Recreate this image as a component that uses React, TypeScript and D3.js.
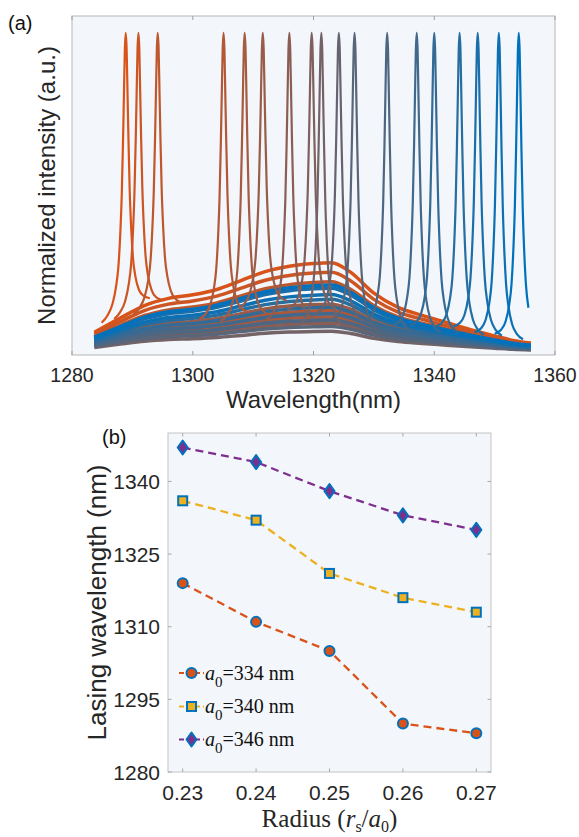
import React, { useEffect, useRef } from "react";
import * as d3 from "d3";

// (a) lasing spectra, one per peak
const peakWavelengths = [1288.9, 1291.0, 1294.2, 1305.1, 1308.6, 1311.6, 1316.0, 1319.7, 1321.3, 1324.2, 1326.8, 1332.2, 1337.1, 1340.0, 1344.2, 1347.2, 1350.7, 1354.0];
const backgroundLevels = [0.28, 0.25, 0.22, 0.13, 0.11, 0.15, 0.09, 0.12, 0.065, 0.1, 0.08, 0.1, 0.12, 0.14, 0.165, 0.2, 0.18, 0.21];
// shape of the broad spontaneous emission under the peaks
const backgroundWavelengths = [1283.7, 1288, 1292, 1296, 1300, 1304, 1308, 1312, 1316, 1320, 1323, 1326, 1330, 1334, 1338, 1342, 1346, 1350, 1353, 1356];
const backgroundShape = [0.22, 0.38, 0.52, 0.6, 0.64, 0.7, 0.8, 0.9, 0.96, 0.99, 1.0, 0.9, 0.66, 0.5, 0.41, 0.33, 0.25, 0.18, 0.13, 0.1];
// line shape of a lasing peak (offset in nm, relative height)
const lineOffsets = [-4, -3, -2.2, -1.6, -1.2, -0.9, -0.65, -0.45, -0.3, -0.15, 0, 0.15, 0.3, 0.45, 0.65, 0.9, 1.2, 1.6, 2.2, 3, 4];
const lineShape = [0.02, 0.035, 0.065, 0.12, 0.19, 0.3, 0.44, 0.62, 0.78, 0.94, 1, 0.94, 0.78, 0.62, 0.44, 0.3, 0.19, 0.12, 0.065, 0.035, 0.02];
const wavelengthTicks = [1280, 1300, 1320, 1340, 1360];

// (b) lasing wavelength vs radius
const radii = [0.23, 0.24, 0.25, 0.26, 0.27];
const lasing334 = [1319, 1311, 1305, 1290, 1288];
const lasing340 = [1336, 1332, 1321, 1316, 1313];
const lasing346 = [1347, 1344, 1338, 1333, 1330];
const lasingTicks = [1280, 1295, 1310, 1325, 1340];
const latticeLabels = ["334", "340", "346"];

const SANS = "'Liberation Sans', Arial, sans-serif";
const SERIF = "'Liberation Serif', 'Times New Roman', serif";

export default function App() {
  const ref = useRef<SVGSVGElement>(null);

  useEffect(() => {
    document.body.style.margin = "0";
    const svg = d3.select(ref.current);
    svg.selectAll("*").remove();

    // ---------- panel (a) ----------
    const a = { left: 72, right: 555, top: 16, bottom: 355 };
    const x = d3.scaleLinear().domain([1280, 1360]).range([a.left, a.right]);
    const y = d3.scaleLinear().domain([0, 1.05]).range([352, 17]);
    const color = d3.interpolateRgb("#d95319", "#0072bd");
    const bgAt = d3.scaleLinear().domain(backgroundWavelengths).range(backgroundShape).clamp(true);

    svg.append("rect")
      .attr("x", a.left).attr("y", a.top)
      .attr("width", a.right - a.left).attr("height", a.bottom - a.top)
      .attr("fill", "#f3f6fa");

    svg.append("clipPath").attr("id", "clipA")
      .append("rect")
      .attr("x", a.left).attr("y", a.top)
      .attr("width", a.right - a.left).attr("height", a.bottom - a.top);

    const line = d3.line<[number, number]>()
      .x(d => x(d[0]))
      .y(d => y(d[1]))
      .curve(d3.curveMonotoneX);

    const gA = svg.append("g").attr("clip-path", "url(#clipA)");

    // broad backgrounds first
    peakWavelengths.forEach((p, i) => {
      const level = backgroundLevels[i];
      const pts: [number, number][] = backgroundWavelengths.map((w, k) => [w, level * backgroundShape[k]]);
      gA.append("path")
        .attr("d", line(pts))
        .attr("fill", "none")
        .attr("stroke", color(i / (peakWavelengths.length - 1)))
        .attr("stroke-width", 3.5);
    });

    // lasing peaks on top
    peakWavelengths.forEach((p, i) => {
      const level = backgroundLevels[i];
      const base = level * bgAt(p);
      const pts: [number, number][] = lineOffsets
        .map((o, k) => [p + o, level * bgAt(p + o) + lineShape[k] * (1 - base)] as [number, number])
        .filter(d => d[0] <= 1356 && d[0] >= 1283.7);
      gA.append("path")
        .attr("d", line(pts))
        .attr("fill", "none")
        .attr("stroke", color(i / (peakWavelengths.length - 1)))
        .attr("stroke-width", 2.2)
        .attr("stroke-linejoin", "round");
    });

    svg.append("rect")
      .attr("x", a.left).attr("y", a.top)
      .attr("width", a.right - a.left).attr("height", a.bottom - a.top)
      .attr("fill", "none").attr("stroke", "#b5b5b5").attr("stroke-width", 1);

    wavelengthTicks.forEach(t => {
      svg.append("line")
        .attr("x1", x(t)).attr("x2", x(t))
        .attr("y1", a.bottom).attr("y2", a.bottom - 4)
        .attr("stroke", "#a0a0a0");
      svg.append("line")
        .attr("x1", x(t)).attr("x2", x(t))
        .attr("y1", a.top).attr("y2", a.top + 4)
        .attr("stroke", "#a0a0a0");
      svg.append("text")
        .attr("x", x(t)).attr("y", 382)
        .attr("text-anchor", "middle")
        .attr("font-family", SANS).attr("font-size", 19.5)
        .attr("fill", "#262626")
        .text(t);
    });

    svg.append("text")
      .attr("x", (a.left + a.right) / 2).attr("y", 408)
      .attr("text-anchor", "middle")
      .attr("font-family", SANS).attr("font-size", 24)
      .attr("fill", "#262626")
      .text("Wavelength(nm)");

    svg.append("text")
      .attr("transform", `translate(55,${(a.top + a.bottom) / 2}) rotate(-90)`)
      .attr("text-anchor", "middle")
      .attr("font-family", SANS).attr("font-size", 24)
      .attr("fill", "#262626")
      .text("Normalized intensity (a.u.)");

    svg.append("text")
      .attr("x", 8).attr("y", 30)
      .attr("font-family", SANS).attr("font-size", 20)
      .attr("fill", "#111")
      .text("(a)");

    // ---------- panel (b) ----------
    const b = { left: 168, right: 491, top: 433, bottom: 772 };
    const xb = d3.scaleLinear().domain([0.228, 0.272]).range([b.left, b.right]);
    const yb = d3.scaleLinear().domain([1280, 1350]).range([b.bottom, b.top]);

    svg.append("rect")
      .attr("x", b.left).attr("y", b.top)
      .attr("width", b.right - b.left).attr("height", b.bottom - b.top)
      .attr("fill", "#f3f6fa")
      .attr("stroke", "#c4c4c4").attr("stroke-width", 1);

    radii.forEach(r => {
      svg.append("line")
        .attr("x1", xb(r)).attr("x2", xb(r))
        .attr("y1", b.bottom).attr("y2", b.bottom - 3.5)
        .attr("stroke", "#a8a8a8");
      svg.append("line")
        .attr("x1", xb(r)).attr("x2", xb(r))
        .attr("y1", b.top).attr("y2", b.top + 3.5)
        .attr("stroke", "#a8a8a8");
      svg.append("text")
        .attr("x", xb(r)).attr("y", 800)
        .attr("text-anchor", "middle")
        .attr("font-family", SANS).attr("font-size", 21)
        .attr("fill", "#262626")
        .text(r.toFixed(2));
    });

    lasingTicks.forEach(t => {
      svg.append("line")
        .attr("x1", b.left).attr("x2", b.left + 3.5)
        .attr("y1", yb(t)).attr("y2", yb(t))
        .attr("stroke", "#a8a8a8");
      svg.append("line")
        .attr("x1", b.right).attr("x2", b.right - 3.5)
        .attr("y1", yb(t)).attr("y2", yb(t))
        .attr("stroke", "#a8a8a8");
      svg.append("text")
        .attr("x", 160).attr("y", yb(t) + 7.5)
        .attr("text-anchor", "end")
        .attr("font-family", SANS).attr("font-size", 21)
        .attr("fill", "#262626")
        .text(t);
    });

    const series = [
      { values: lasing334, line: "#d95319", fill: "#d95319", marker: "circle" },
      { values: lasing340, line: "#edb120", fill: "#edb120", marker: "square" },
      { values: lasing346, line: "#7e2f8e", fill: "#7e2f8e", marker: "diamond" },
    ];

    const drawMarker = (g: any, kind: string, cx: number, cy: number, fill: string) => {
      if (kind === "circle") {
        g.append("circle").attr("cx", cx).attr("cy", cy).attr("r", 5)
          .attr("fill", fill).attr("stroke", "#0072bd").attr("stroke-width", 2);
      } else if (kind === "square") {
        g.append("rect").attr("x", cx - 4.5).attr("y", cy - 4.5)
          .attr("width", 9).attr("height", 9)
          .attr("fill", fill).attr("stroke", "#0072bd").attr("stroke-width", 2);
      } else {
        g.append("path")
          .attr("d", `M${cx},${cy - 7}L${cx + 5},${cy}L${cx},${cy + 7}L${cx - 5},${cy}Z`)
          .attr("fill", fill).attr("stroke", "#0072bd").attr("stroke-width", 2)
          .attr("stroke-linejoin", "round");
      }
    };

    const lineB = d3.line<number>()
      .x((d, i) => xb(radii[i]))
      .y(d => yb(d));

    const gB = svg.append("g");
    series.forEach(s => {
      gB.append("path")
        .attr("d", lineB(s.values))
        .attr("fill", "none")
        .attr("stroke", s.line)
        .attr("stroke-width", 2.3)
        .attr("stroke-dasharray", "8,5");
    });
    series.forEach(s => {
      s.values.forEach((v, i) => drawMarker(gB, s.marker, xb(radii[i]), yb(v), s.fill));
    });

    // legend
    const legendY = [673, 706.5, 739.5];
    series.forEach((s, i) => {
      const ly = legendY[i];
      svg.append("line")
        .attr("x1", 179).attr("x2", 204)
        .attr("y1", ly).attr("y2", ly)
        .attr("stroke", s.line).attr("stroke-width", 2)
        .attr("stroke-dasharray", "5,3");
      drawMarker(svg, s.marker, 191.5, ly, s.fill);
      const t = svg.append("text")
        .attr("x", 205).attr("y", ly + 6.5)
        .attr("font-family", SERIF).attr("font-size", 20)
        .attr("fill", "#111");
      t.append("tspan").attr("font-style", "italic").text("a");
      t.append("tspan").attr("font-size", 15).attr("dy", 7).text("0");
      t.append("tspan").attr("dy", -7).text(`=${latticeLabels[i]} nm`);
    });

    svg.append("text")
      .attr("transform", `translate(106,${(b.top + b.bottom) / 2}) rotate(-90)`)
      .attr("text-anchor", "middle")
      .attr("font-family", SANS).attr("font-size", 26)
      .attr("fill", "#262626")
      .text("Lasing wavelength (nm)");

    const xl = svg.append("text")
      .attr("x", (b.left + b.right) / 2).attr("y", 827)
      .attr("text-anchor", "middle")
      .attr("font-family", SERIF).attr("font-size", 25)
      .attr("fill", "#262626");
    xl.append("tspan").text("Radius (");
    xl.append("tspan").attr("font-style", "italic").text("r");
    xl.append("tspan").attr("font-size", 16).attr("dy", 5).text("s");
    xl.append("tspan").attr("dy", -5).text("/");
    xl.append("tspan").attr("font-style", "italic").text("a");
    xl.append("tspan").attr("font-size", 16).attr("dy", 5).text("0");
    xl.append("tspan").attr("dy", -5).text(")");

    svg.append("text")
      .attr("x", 102).attr("y", 444)
      .attr("font-family", SANS).attr("font-size", 20)
      .attr("fill", "#111")
      .text("(b)");
  }, []);

  return <svg ref={ref} width={579} height={837} style={{ display: "block", background: "#fff" }} />;
}
